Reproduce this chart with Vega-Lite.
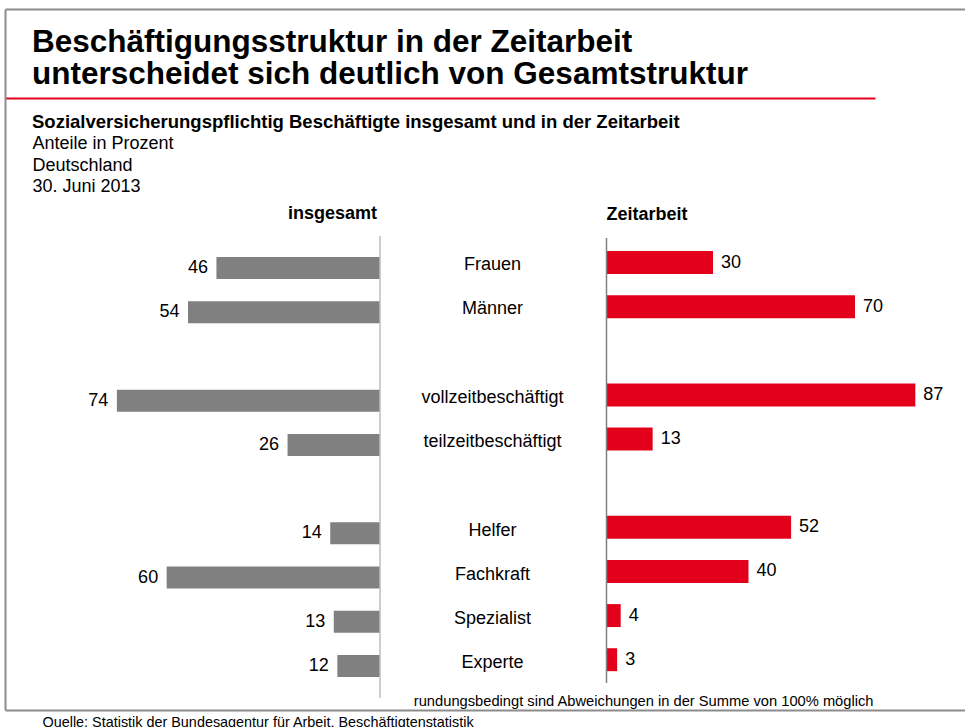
{
  "$schema": "https://vega.github.io/schema/vega-lite/v6.json",
  "width": 960,
  "height": 701,
  "autosize": {"type": "none"},
  "padding": {"left": 5, "top": 9, "right": 0, "bottom": 17},
  "background": "white",
  "config": {
    "view": {"stroke": null},
    "font": "Liberation Sans",
    "text": {"font": "Liberation Sans"}
  },
  "title": {
    "text": ["Beschäftigungsstruktur in der Zeitarbeit", "unterscheidet sich deutlich von Gesamtstruktur"],
    "subtitle": "Sozialversicherungspflichtig Beschäftigte insgesamt und in der Zeitarbeit",
    "orient": "top",
    "anchor": "start",
    "frame": "group",
    "offset": -122,
    "dx": 27,
    "font": "Liberation Sans",
    "fontSize": 31.5,
    "fontWeight": "bold",
    "lineHeight": 32,
    "color": "#000000",
    "subtitleFont": "Liberation Sans",
    "subtitleFontSize": 18.5,
    "subtitleFontWeight": "bold",
    "subtitleColor": "#000000",
    "subtitlePadding": 22
  },
  "datasets": {
    "anteile": [
      {"kategorie": "Frauen", "insgesamt": 46, "zeitarbeit": 30},
      {"kategorie": "Männer", "insgesamt": 54, "zeitarbeit": 70},
      {"kategorie": "vollzeitbeschäftigt", "insgesamt": 74, "zeitarbeit": 87},
      {"kategorie": "teilzeitbeschäftigt", "insgesamt": 26, "zeitarbeit": 13},
      {"kategorie": "Helfer", "insgesamt": 14, "zeitarbeit": 52},
      {"kategorie": "Fachkraft", "insgesamt": 60, "zeitarbeit": 40},
      {"kategorie": "Spezialist", "insgesamt": 13, "zeitarbeit": 4},
      {"kategorie": "Experte", "insgesamt": 12, "zeitarbeit": 3}
    ]
  },
  "data": {"name": "anteile"},
  "layer": [
    {
      "layer": [
        {
          "mark": {"type": "bar", "color": "#808080"},
          "encoding": {
            "x": {"field": "insgesamt", "type": "quantitative",
              "scale": {"domain": [-139.2, 105.46], "reverse": true, "range": [0, 870], "nice": false, "zero": false},
              "axis": {"orient": "top", "offset": -89, "domainColor": "#e3001b", "domainWidth": 2, "labels": false, "ticks": false, "grid": false, "title": null}},
            "y": {"field": "kategorie", "type": "nominal",
              "scale": {"type": "band", "domain": ["Titel1", "Titel2", "Titel3", "Titel4", "Kopf", "Frauen", "Männer", "Lücke1", "vollzeitbeschäftigt", "teilzeitbeschäftigt", "Lücke2", "Helfer", "Fachkraft", "Spezialist", "Experte"], "paddingInner": 0.5025, "paddingOuter": 0.678, "align": 0.4498},
              "axis": {"orient": "left", "domain": true, "domainColor": "#8c8c8c", "domainWidth": 2, "labels": false, "ticks": false, "grid": false,
                "title": ["Anteile in Prozent", "Deutschland", "30. Juni 2013"],
                "titleAngle": 0, "titleAlign": "left", "titleBaseline": "alphabetic", "titleX": 27, "titleY": 139.5,
                "titleFont": "Liberation Sans", "titleFontSize": 18, "titleFontWeight": "normal", "titleLineHeight": 21.7, "titleColor": "#000000"}}
          }
        },
        {
          "mark": {"type": "text", "align": "right", "baseline": "middle", "dx": -8.5, "fontSize": 18, "color": "#000000"},
          "encoding": {
            "x": {"field": "insgesamt", "type": "quantitative",
              "scale": {"domain": [-139.2, 105.46], "reverse": true, "range": [0, 870], "nice": false, "zero": false}},
            "y": {"field": "kategorie", "type": "nominal",
              "scale": {"type": "band", "domain": ["Titel1", "Titel2", "Titel3", "Titel4", "Kopf", "Frauen", "Männer", "Lücke1", "vollzeitbeschäftigt", "teilzeitbeschäftigt", "Lücke2", "Helfer", "Fachkraft", "Spezialist", "Experte"], "paddingInner": 0.5025, "paddingOuter": 0.678, "align": 0.4498}},
            "text": {"field": "insgesamt", "type": "quantitative"}
          }
        },
        {
          "data": {"values": [{"kopf": "insgesamt"}]},
          "mark": {"type": "text", "align": "right", "baseline": "alphabetic", "dx": -3, "dy": -5, "fontSize": 18, "fontWeight": "bold", "color": "#000000"},
          "encoding": {
            "x": {"datum": 0, "type": "quantitative"},
            "y": {"datum": "Kopf", "type": "nominal", "bandPosition": 0.5},
            "text": {"field": "kopf", "type": "nominal"}
          }
        },
        {
          "data": {"values": [{"linie": "insgesamt"}]},
          "mark": {"type": "rule", "color": "#bdbdbd", "strokeWidth": 1.5},
          "encoding": {
            "x": {"datum": 0, "type": "quantitative"},
            "y": {"datum": "Experte", "type": "nominal", "bandPosition": 1.95},
            "y2": {"datum": "Kopf", "bandPosition": 1.05}
          }
        }
      ]
    },
    {
      "layer": [
        {
          "mark": {"type": "bar", "color": "#e3001b"},
          "encoding": {
            "x": {"field": "zeitarbeit", "type": "quantitative",
              "scale": {"domain": [-169.44, 100.99], "nice": false, "zero": false},
              "axis": {"orient": "top", "domainColor": "#8c8c8c", "domainWidth": 2, "labels": false, "ticks": false, "grid": false, "title": null}},
            "y": {"field": "kategorie", "type": "nominal",
              "scale": {"type": "band", "domain": ["Kopf", "Frauen", "Männer", "Lücke1", "vollzeitbeschäftigt", "teilzeitbeschäftigt", "Lücke2", "Helfer", "Fachkraft", "Spezialist", "Experte"], "range": [198, 662.17], "paddingInner": 0.48, "paddingOuter": 0},
              "axis": {"orient": "right", "domain": false, "labels": false, "ticks": false, "grid": false,
                "title": "rundungsbedingt sind Abweichungen in der Summe von 100% möglich",
                "titleAngle": 0, "titleAlign": "right", "titleBaseline": "alphabetic", "titleX": -92, "titleY": 696,
                "titleFont": "Liberation Sans", "titleFontSize": 14.7, "titleFontWeight": "normal", "titleColor": "#000000"}}
          }
        },
        {
          "mark": {"type": "text", "align": "left", "baseline": "middle", "dx": 8, "fontSize": 18, "color": "#000000"},
          "encoding": {
            "x": {"field": "zeitarbeit", "type": "quantitative",
              "scale": {"domain": [-169.44, 100.99], "nice": false, "zero": false}},
            "y": {"field": "kategorie", "type": "nominal",
              "scale": {"type": "band", "domain": ["Kopf", "Frauen", "Männer", "Lücke1", "vollzeitbeschäftigt", "teilzeitbeschäftigt", "Lücke2", "Helfer", "Fachkraft", "Spezialist", "Experte"], "range": [198, 662.17], "paddingInner": 0.48, "paddingOuter": 0}},
            "text": {"field": "zeitarbeit", "type": "quantitative"}
          }
        },
        {
          "data": {"values": [{"kopf": "Zeitarbeit"}]},
          "mark": {"type": "text", "align": "left", "baseline": "alphabetic", "dx": 0, "dy": 2, "fontSize": 18, "fontWeight": "bold", "color": "#000000"},
          "encoding": {
            "x": {"datum": 0, "type": "quantitative"},
            "y": {"datum": "Kopf", "type": "nominal", "bandPosition": 0.5},
            "text": {"field": "kopf", "type": "nominal"}
          }
        },
        {
          "data": {"values": [{"linie": "Zeitarbeit"}]},
          "mark": {"type": "rule", "color": "#808080", "strokeWidth": 1.5},
          "encoding": {
            "x": {"datum": 0, "type": "quantitative"},
            "y": {"datum": "Experte", "type": "nominal", "bandPosition": 1.52},
            "y2": {"datum": "Kopf", "bandPosition": 1.35}
          }
        }
      ]
    },
    {
      "mark": {"type": "text", "baseline": "middle", "dx": 7.5, "fontSize": 18, "color": "#000000"},
      "encoding": {
        "x": {"datum": "Mitte", "type": "nominal",
          "axis": {"orient": "bottom", "domain": true, "domainColor": "#8c8c8c", "domainWidth": 2, "labels": false, "ticks": false, "grid": false,
            "title": "Quelle: Statistik der Bundesagentur für Arbeit, Beschäftigtenstatistik",
            "titleAnchor": "start", "titleAlign": "left", "titleBaseline": "alphabetic", "titleX": 37, "titleY": 16,
            "titleFont": "Liberation Sans", "titleFontSize": 14.4, "titleFontWeight": "normal", "titleColor": "#000000"}},
        "y": {"field": "kategorie", "type": "nominal",
          "scale": {"type": "band", "domain": ["Kopf", "Frauen", "Männer", "Lücke1", "vollzeitbeschäftigt", "teilzeitbeschäftigt", "Lücke2", "Helfer", "Fachkraft", "Spezialist", "Experte"], "range": [201, 665.17], "paddingInner": 0.5025, "paddingOuter": 0},
          "axis": null},
        "text": {"field": "kategorie", "type": "nominal"}
      }
    }
  ],
  "resolve": {
    "scale": {"x": "independent", "y": "independent"},
    "axis": {"x": "independent", "y": "independent"}
  }
}
